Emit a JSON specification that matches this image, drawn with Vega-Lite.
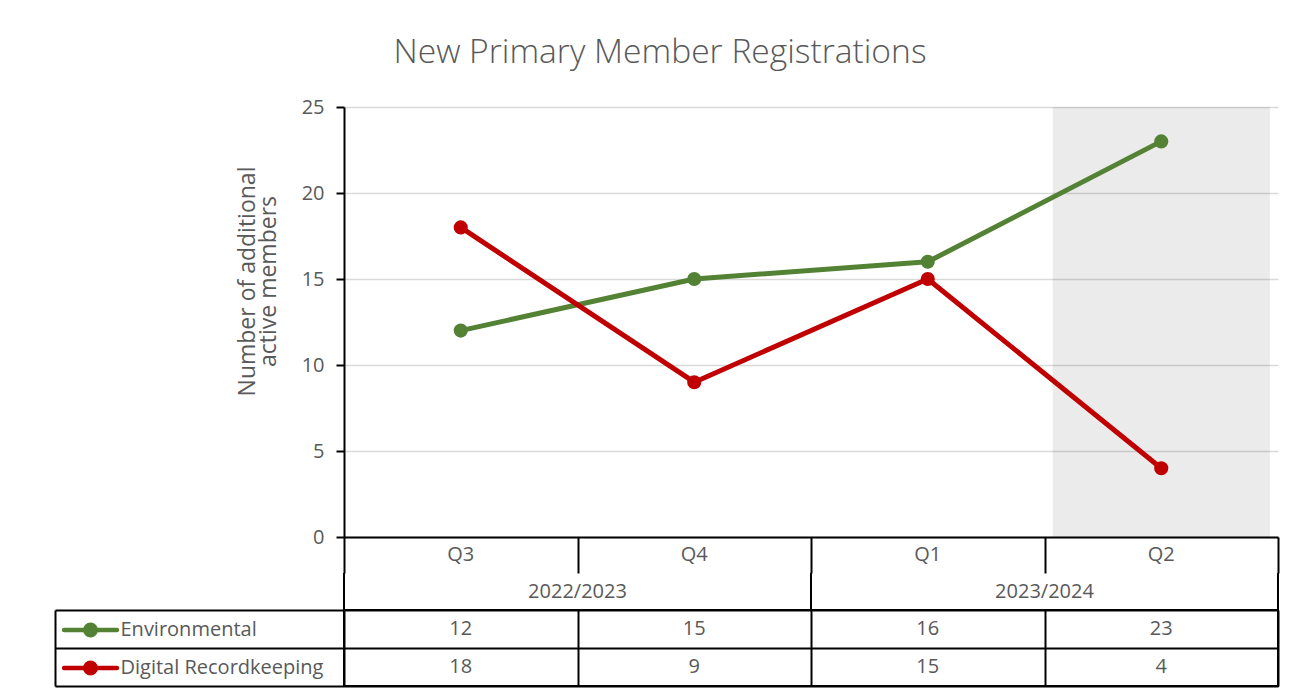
{
  "$schema": "https://vega.github.io/schema/vega-lite/v6.json",
  "padding": {"left": 53, "top": 36, "right": 5, "bottom": 5},
  "autosize": {"type": "pad"},
  "background": "white",
  "bounds": "flush",
  "spacing": 0,
  "config": {
    "font": "Open Sans",
    "view": {"stroke": null},
    "axis": {"labelFont": "Open Sans", "titleFont": "Open Sans"},
    "legend": {"labelFont": "Open Sans"}
  },
  "datasets": {
    "main": [
      {"q": "Q3", "year": "2022/2023", "series": "Environmental", "value": 12},
      {"q": "Q4", "year": "2022/2023", "series": "Environmental", "value": 15},
      {"q": "Q1", "year": "2023/2024", "series": "Environmental", "value": 16},
      {"q": "Q2", "year": "2023/2024", "series": "Environmental", "value": 23},
      {"q": "Q3", "year": "2022/2023", "series": "Digital Recordkeeping", "value": 18},
      {"q": "Q4", "year": "2022/2023", "series": "Digital Recordkeeping", "value": 9},
      {"q": "Q1", "year": "2023/2024", "series": "Digital Recordkeeping", "value": 15},
      {"q": "Q2", "year": "2023/2024", "series": "Digital Recordkeeping", "value": 4}
    ],
    "years": [
      {"year": "2022/2023", "first": "Q3", "last": "Q4"},
      {"year": "2023/2024", "first": "Q1", "last": "Q2"}
    ]
  },
  "vconcat": [
    {
      "width": 934,
      "height": 430,
      "title": {
        "text": "New Primary Member Registrations",
        "fontSize": 33.6,
        "fontWeight": 300,
        "color": "#595959",
        "anchor": "middle",
        "frame": "group",
        "dx": -151,
        "baseline": "alphabetic",
        "offset": 0
      },
      "data": {"name": "main"},
      "encoding": {
        "x": {
          "field": "q",
          "type": "nominal",
          "scale": {"type": "band", "domain": ["Q3", "Q4", "Q1", "Q2"], "paddingInner": 0, "paddingOuter": 0},
          "axis": {"title": null, "labels": false, "ticks": false, "domain": true, "domainColor": "black", "domainWidth": 2, "grid": false}
        }
      },
      "layer": [
        {
          "transform": [{"filter": "datum.q === 'Q2' && datum.series === 'Environmental'"}],
          "mark": {"type": "bar", "width": {"band": 0.93}, "color": "#000000", "opacity": 0.08}
        },
        {
          "mark": {"type": "line", "strokeWidth": 5, "strokeCap": "round", "strokeJoin": "round"},
          "encoding": {
            "y": {
              "field": "value",
              "type": "quantitative",
              "scale": {"domain": [0, 25], "nice": false},
              "axis": {
                "values": [0, 5, 10, 15, 20, 25],
                "title": ["Number of additional", "active members"],
                "titleFontSize": 23,
                "titleLineHeight": 21,
                "titleColor": "#595959",
                "titleFontWeight": "normal",
                "titleX": -97,
                "titleY": 174,
                "titleAngle": -90,
                "titleAlign": "center",
                "titleBaseline": "middle",
                "labelFontSize": 20,
                "labelColor": "#595959",
                "labelPadding": 12,
                "tickSize": 8,
                "tickColor": "black",
                "tickWidth": 2,
                "domainColor": "black",
                "domainWidth": 2,
                "gridColor": "#d9d9d9",
                "gridWidth": 1.3
              }
            },
            "color": {
              "field": "series",
              "type": "nominal",
              "scale": {"domain": ["Environmental", "Digital Recordkeeping"], "range": ["#548235", "#c00000"]},
              "legend": {
                "orient": "none",
                "legendX": -263.5,
                "legendY": 513,
                "title": null,
                "padding": 0,
                "symbolType": "M-4.4,0H4.4M-0.875,0A0.875,0.875,0,1,0,0.875,0A0.875,0.875,0,1,0,-0.875,0Z",
                "symbolSize": 144,
                "symbolStrokeWidth": 4.5,
                "labelFontSize": 20,
                "labelColor": "#595959",
                "labelOffset": 20,
                "labelLimit": 400,
                "rowPadding": 8,
                "encode": {
                  "symbols": {
                    "update": {
                      "fill": {"scale": "color", "field": "value"},
                      "stroke": {"scale": "color", "field": "value"},
                      "strokeCap": {"value": "round"}
                    }
                  }
                }
              }
            }
          }
        },
        {
          "mark": {"type": "point", "filled": true, "size": 200, "opacity": 1},
          "encoding": {
            "y": {"field": "value", "type": "quantitative"},
            "color": {"field": "series", "type": "nominal"}
          }
        }
      ]
    },
    {
      "width": 934,
      "height": 36,
      "data": {"name": "main"},
      "transform": [{"filter": "datum.series === 'Environmental'"}],
      "mark": {"type": "text", "fontSize": 20, "color": "#595959"},
      "encoding": {
        "x": {
          "field": "q",
          "type": "nominal",
          "scale": {"type": "band", "domain": ["Q3", "Q4", "Q1", "Q2"], "paddingInner": 0, "paddingOuter": 0},
          "axis": {"title": null, "labels": false, "ticks": false, "domain": false, "grid": true, "tickBand": "extent", "gridColor": "black", "gridWidth": 2}
        },
        "text": {"field": "q"}
      }
    },
    {
      "width": 934,
      "height": 37,
      "data": {"name": "years"},
      "layer": [
        {
          "mark": {"type": "text", "fontSize": 20, "color": "#595959"},
          "encoding": {
            "x": {
              "field": "first",
              "type": "nominal",
              "bandPosition": 1,
              "scale": {"type": "band", "domain": ["Q3", "Q4", "Q1", "Q2"], "paddingInner": 0, "paddingOuter": 0},
              "axis": null
            },
            "text": {"field": "year"}
          }
        },
        {
          "mark": {"type": "rule", "color": "black", "strokeWidth": 2},
          "encoding": {
            "x": {"field": "first", "type": "nominal", "bandPosition": 0}
          }
        },
        {
          "mark": {"type": "rule", "color": "black", "strokeWidth": 2},
          "encoding": {
            "x": {"field": "last", "type": "nominal", "bandPosition": 1}
          }
        }
      ]
    },
    {
      "width": 934,
      "height": 76,
      "view": {"stroke": "black", "strokeWidth": 2},
      "data": {"name": "main"},
      "mark": {"type": "text", "fontSize": 20, "color": "#595959"},
      "encoding": {
        "x": {
          "field": "q",
          "type": "nominal",
          "scale": {"type": "band", "domain": ["Q3", "Q4", "Q1", "Q2"], "paddingInner": 0, "paddingOuter": 0},
          "axis": {"title": null, "labels": false, "ticks": false, "domain": false, "grid": true, "tickBand": "extent", "gridColor": "black", "gridWidth": 2}
        },
        "y": {
          "field": "series",
          "type": "nominal",
          "scale": {"type": "band", "domain": ["Environmental", "Digital Recordkeeping"], "paddingInner": 0, "paddingOuter": 0},
          "axis": {
            "title": null,
            "orient": "left",
            "offset": 289,
            "labels": false,
            "ticks": true,
            "tickSize": -289,
            "tickBand": "extent",
            "tickColor": "black",
            "tickWidth": 2,
            "domain": true,
            "domainColor": "black",
            "domainWidth": 2,
            "grid": true,
            "gridColor": "black",
            "gridWidth": 2
          }
        },
        "text": {"field": "value"}
      }
    }
  ]
}
